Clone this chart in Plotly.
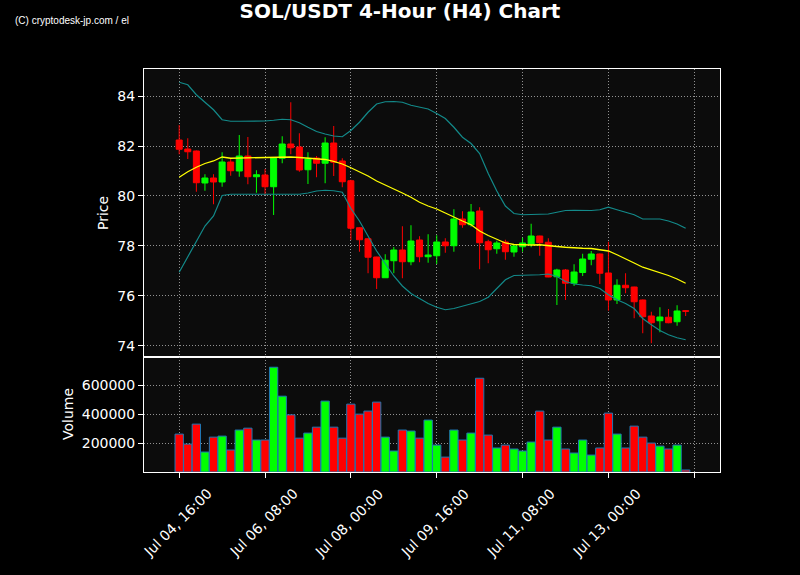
import plotly.graph_objects as go

# ---------------- data ----------------
opens = [82.24, 81.88, 81.80, 80.52, 80.72, 80.56, 81.36, 81.00, 81.60, 80.77,
         80.84, 80.37, 81.51, 82.08, 81.96, 81.05, 81.52, 81.31, 82.12, 81.40,
         80.61, 78.73, 78.29, 77.56, 76.73, 77.41, 77.84, 77.37, 78.24, 77.57,
         77.61, 78.16, 78.01, 79.08, 78.85, 79.40, 78.17, 77.89, 78.16, 77.76,
         77.97, 78.08, 78.40, 78.15, 76.77, 77.04, 76.51, 76.94, 77.47, 77.68,
         76.92, 75.84, 76.43, 76.36, 75.84, 75.20, 75.01, 75.15, 74.97, 75.41]
highs = [82.84, 82.31, 81.82, 80.87, 80.87, 81.75, 81.51, 82.44, 82.36, 81.03,
         81.08, 81.55, 82.39, 83.75, 82.51, 81.75, 81.60, 82.35, 82.80, 81.51,
         80.65, 78.75, 78.30, 77.57, 77.67, 77.96, 78.79, 78.83, 78.39, 78.47,
         78.43, 78.31, 79.47, 79.39, 79.68, 79.55, 78.25, 78.21, 78.25, 78.04,
         78.33, 78.89, 78.41, 78.31, 77.09, 77.08, 77.27, 77.69, 77.80, 77.70,
         78.17, 76.67, 76.91, 76.37, 75.86, 75.37, 75.55, 75.48, 75.63, 75.42]
lows = [81.67, 81.48, 80.17, 80.21, 79.67, 80.37, 80.81, 80.77, 80.47, 80.13,
        80.04, 79.24, 81.31, 81.67, 80.97, 80.48, 80.75, 80.51, 80.80, 80.35,
        78.24, 77.77, 76.91, 76.28, 76.72, 76.91, 76.71, 77.23, 77.35, 77.33,
        77.28, 77.73, 77.77, 78.73, 78.77, 77.07, 77.31, 77.69, 77.45, 77.57,
        77.77, 77.95, 77.61, 76.75, 75.64, 75.84, 76.40, 76.80, 77.23, 76.48,
        75.41, 75.68, 76.11, 75.11, 74.51, 74.11, 74.55, 74.91, 74.81, 75.20]
closes = [81.87, 81.77, 80.53, 80.72, 80.56, 81.36, 81.01, 81.60, 80.77, 80.85,
          80.37, 81.53, 82.08, 81.93, 81.04, 81.48, 81.31, 82.12, 81.35, 80.57,
          78.71, 78.25, 77.55, 76.73, 77.43, 77.84, 77.37, 78.20, 77.57, 77.64,
          78.16, 78.01, 79.08, 78.85, 79.36, 78.13, 77.85, 78.12, 77.77, 78.00,
          78.12, 78.40, 78.13, 76.76, 77.04, 76.51, 76.96, 77.48, 77.68, 76.91,
          75.84, 76.43, 76.33, 75.77, 75.17, 74.93, 75.16, 74.93, 75.40, 75.39]
volumes = [262000, 193000, 331000, 138000, 241000, 248000, 152000, 290000, 303000, 221000,
           221000, 724000, 524000, 395000, 234000, 269000, 310000, 490000, 310000, 234000,
           469000, 400000, 421000, 483000, 241000, 145000, 290000, 283000, 234000, 359000,
           186000, 103000, 290000, 221000, 269000, 648000, 255000, 166000, 186000, 159000,
           145000, 207000, 421000, 221000, 310000, 159000, 131000, 221000, 117000, 166000,
           407000, 262000, 166000, 317000, 241000, 200000, 179000, 159000, 186000, 14000]
ma_line = [80.75, 80.97, 81.15, 81.30, 81.40, 81.56, 81.51, 81.52, 81.53, 81.53,
           81.53, 81.54, 81.55, 81.56, 81.54, 81.52, 81.50, 81.46, 81.38, 81.28,
           81.13, 80.98, 80.80, 80.60, 80.45, 80.30, 80.12, 79.95, 79.75, 79.60,
           79.48, 79.32, 79.15, 79.00, 78.85, 78.60, 78.42, 78.26, 78.12, 78.06,
           78.04, 78.04, 78.05, 78.03, 77.98, 77.95, 77.92, 77.91, 77.90, 77.86,
           77.80, 77.65, 77.47, 77.32, 77.15, 77.05, 76.93, 76.82, 76.68, 76.51]
upper_band = [84.55, 84.45, 84.05, 83.75, 83.45, 83.05, 82.99, 82.99, 82.99, 82.99,
              83.00, 83.03, 83.07, 83.05, 82.93, 82.75, 82.58, 82.48, 82.40, 82.37,
              82.62, 82.95, 83.35, 83.68, 83.77, 83.78, 83.75, 83.63, 83.55, 83.48,
              83.30, 83.10, 82.75, 82.35, 82.10, 81.70, 80.90, 80.20, 79.60, 79.30,
              79.25, 79.25, 79.27, 79.28, 79.35, 79.42, 79.43, 79.42, 79.42, 79.45,
              79.55, 79.45, 79.35, 79.25, 79.08, 79.07, 79.08, 79.00, 78.88, 78.71]
lower_band = [76.95, 77.55, 78.20, 78.80, 79.20, 80.02, 80.07, 80.07, 80.08, 80.08,
              80.07, 80.05, 80.05, 80.05, 80.07, 80.12, 80.20, 80.23, 80.21, 80.15,
              79.50, 79.00, 78.40, 77.80, 77.30, 76.80, 76.40, 76.10, 75.90, 75.70,
              75.55, 75.45, 75.50, 75.60, 75.67, 75.78, 75.95, 76.30, 76.65, 76.82,
              76.82, 76.82, 76.85, 76.88, 76.78, 76.58, 76.48, 76.44, 76.41, 76.30,
              76.05, 75.85, 75.70, 75.50, 75.10, 74.85, 74.62, 74.45, 74.33, 74.25]
tick_positions = [0, 10, 20, 30, 40, 50, 60]
tick_labels = ["Jul 04, 16:00", "Jul 06, 08:00", "Jul 08, 00:00", "Jul 09, 16:00",
               "Jul 11, 08:00", "Jul 13, 00:00", ""]
price_ticks = [74, 76, 78, 80, 82, 84]
volume_ticks = [200000, 400000, 600000]

idx = list(range(len(opens)))
UP, DOWN = "#00ff00", "#ff0000"
vol_colors = [UP if c >= o else DOWN for o, c in zip(opens, closes)]

fig = go.Figure()
fig.add_trace(go.Scatter(x=idx, y=upper_band, mode="lines", line=dict(color="#138a8a", width=1.2),
                         xaxis="x", yaxis="y", showlegend=False, hoverinfo="skip"))
fig.add_trace(go.Scatter(x=idx, y=lower_band, mode="lines", line=dict(color="#138a8a", width=1.2),
                         xaxis="x", yaxis="y", showlegend=False, hoverinfo="skip"))
fig.add_trace(go.Candlestick(x=idx, open=opens, high=highs, low=lows, close=closes,
                             increasing=dict(line=dict(color=UP, width=1), fillcolor=UP),
                             decreasing=dict(line=dict(color=DOWN, width=1), fillcolor=DOWN),
                             xaxis="x", yaxis="y", showlegend=False))
fig.add_trace(go.Scatter(x=idx, y=ma_line, mode="lines", line=dict(color="#ffff00", width=1.3),
                         xaxis="x", yaxis="y", showlegend=False, hoverinfo="skip"))
fig.add_trace(go.Bar(x=idx, y=volumes, marker=dict(color=vol_colors, line=dict(color="#1f77b4", width=1)),
                     xaxis="x2", yaxis="y2", showlegend=False))

grid = dict(showgrid=True, gridcolor="rgba(180,180,180,0.8)", griddash="1px,2px", gridwidth=1)
axline = dict(showline=True, linecolor="white", linewidth=1, mirror=True, zeroline=False)
tickfont = dict(family="DejaVu Sans", size=14, color="white")

x_label_annotations = [
    dict(text=lab, xref="x2", yref="paper", x=pos, y=(472 - 483) / 403, xanchor="center", yanchor="top",
         xshift=-2, textangle=-45, showarrow=False, font=tickfont)
    for pos, lab in zip(tick_positions, tick_labels) if lab
]

fig.update_layout(
    width=800, height=575,
    paper_bgcolor="#000000", plot_bgcolor="#0c0c0c",
    margin=dict(l=144, r=80, t=69, b=103, autoexpand=False),
    bargap=0.03, boxgap=0.3, boxgroupgap=0.0,
    title=dict(text="<b>SOL/USDT 4-Hour (H4) Chart</b>", x=0.5, xref="container", xanchor="center",
               y=1 - 11 / 575, yref="container", yanchor="middle",
               font=dict(family="DejaVu Sans", size=20, color="white")),
    xaxis=dict(domain=[0, 1], anchor="y", range=[-4.1, 63.0], tickvals=tick_positions, ticktext=tick_labels,
               showticklabels=False, ticks="", rangeslider=dict(visible=False), **grid, **axline),
    yaxis=dict(domain=[0.2854, 1], anchor="x", range=[73.56, 85.08], tickvals=price_ticks,
               ticks="outside", ticklen=5, tickcolor="white", tickfont=tickfont, **grid, **axline),
    xaxis2=dict(domain=[0, 1], anchor="y2", matches="x", range=[-4.1, 63.0], tickvals=tick_positions,
                ticktext=tick_labels, showticklabels=False, ticks="outside", ticklen=5, tickcolor="white",
                **grid, **axline),
    yaxis2=dict(domain=[0, 0.2854], anchor="x2", range=[0, 795000], tickvals=volume_ticks,
                tickformat="d", ticks="outside", ticklen=5, tickcolor="white", tickfont=tickfont,
                **grid, **axline),
    annotations=[
        dict(text="(C) cryptodesk-jp.com / el", xref="paper", yref="paper",
             x=(13 - 144) / 576, y=(472 - 21) / 403, xanchor="left", yanchor="middle",
             showarrow=False, font=dict(family="Liberation Sans", size=10, color="white")),
        dict(text="Price", xref="paper", yref="paper", x=(103 - 144) / 576, y=(472 - 213) / 403,
             xanchor="center", yanchor="middle", textangle=-90, showarrow=False,
             font=dict(family="DejaVu Sans", size=14, color="white")),
        dict(text="Volume", xref="paper", yref="paper", x=(68 - 144) / 576, y=(472 - 414) / 403,
             xanchor="center", yanchor="middle", textangle=-90, showarrow=False,
             font=dict(family="DejaVu Sans", size=14, color="white")),
    ] + x_label_annotations,
)

fig.write_html("out.html", config={"displayModeBar": False},
               post_script="document.body.style.margin='0';document.body.style.background='#000';"
                           "document.body.style.overflow='hidden';")
